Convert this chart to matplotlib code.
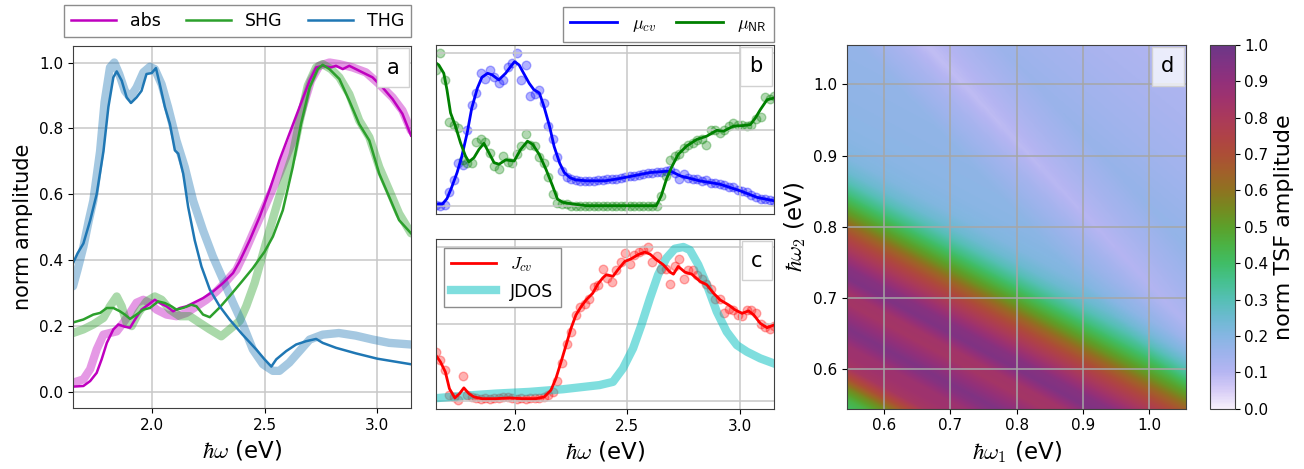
import numpy as np
import matplotlib
matplotlib.use('Agg')
import matplotlib.pyplot as plt
from matplotlib.colors import LinearSegmentedColormap
from matplotlib.offsetbox import AnchoredText

# ---- panel a: normalised spectra (thin = model, thick = reference) ----
abs_e = [1.65, 1.696, 1.726, 1.755, 1.777, 1.80, 1.829, 1.851, 1.88, 1.903, 1.925, 1.954, 1.984,
         2.013, 2.035, 2.065, 2.094, 2.124, 2.153, 2.183, 2.227, 2.271, 2.316, 2.36, 2.389, 2.434,
         2.478, 2.522, 2.566, 2.61, 2.655, 2.70, 2.729, 2.758, 2.795, 2.817, 2.847, 2.876, 2.92,
         2.979, 3.024, 3.068, 3.112, 3.15]
abs_y = [0.015, 0.017, 0.032, 0.057, 0.098, 0.148, 0.189, 0.204, 0.197, 0.194, 0.219, 0.249, 0.264,
         0.279, 0.269, 0.259, 0.244, 0.254, 0.259, 0.269, 0.284, 0.304, 0.33, 0.36, 0.395, 0.46,
         0.531, 0.612, 0.703, 0.783, 0.864, 0.945, 0.985, 0.99, 0.985, 0.99, 0.98, 0.99, 0.975,
         0.955, 0.924, 0.889, 0.844, 0.778]
abs_ref_e = [1.65, 1.696, 1.726, 1.755, 1.785, 1.814, 1.844, 1.873, 1.903, 1.932, 1.962, 1.991, 2.021,
             2.065, 2.109, 2.153, 2.198, 2.242, 2.286, 2.33, 2.375, 2.41, 2.448, 2.507, 2.566, 2.625,
             2.67, 2.706, 2.743, 2.788, 2.832, 2.891, 2.95, 3.009, 3.068, 3.112, 3.15]
abs_ref_y = [0.027, 0.037, 0.068, 0.128, 0.173, 0.178, 0.183, 0.209, 0.239, 0.27, 0.279, 0.269, 0.249,
             0.234, 0.229, 0.239, 0.259, 0.279, 0.304, 0.335, 0.37, 0.42, 0.48, 0.571, 0.662, 0.763,
             0.864, 0.945, 0.99, 1.0, 0.995, 0.985, 0.97, 0.934, 0.894, 0.854, 0.793]

shg_e = [1.65, 1.696, 1.74, 1.77, 1.80, 1.829, 1.858, 1.88, 1.903, 1.932, 1.962, 1.991, 2.028, 2.058,
         2.087, 2.109, 2.139, 2.175, 2.198, 2.227, 2.257, 2.30, 2.345, 2.40, 2.448, 2.50, 2.537,
         2.581, 2.625, 2.662, 2.70, 2.736, 2.758, 2.788, 2.832, 2.876, 2.92, 2.965, 3.009, 3.053,
         3.097, 3.15]
shg_y = [0.21, 0.219, 0.234, 0.239, 0.254, 0.254, 0.244, 0.234, 0.221, 0.234, 0.249, 0.254, 0.274,
         0.269, 0.259, 0.249, 0.254, 0.264, 0.259, 0.234, 0.226, 0.255, 0.29, 0.335, 0.375, 0.425,
         0.471, 0.551, 0.682, 0.814, 0.924, 0.98, 0.993, 0.98, 0.95, 0.884, 0.813, 0.763, 0.662,
         0.592, 0.521, 0.481]
shg_ref_e = [1.65, 1.696, 1.74, 1.785, 1.814, 1.844, 1.866, 1.888, 1.91, 1.94, 1.976, 2.013, 2.043,
             2.08, 2.124, 2.168, 2.212, 2.257, 2.308, 2.345, 2.39, 2.419, 2.456, 2.485, 2.522, 2.56,
             2.596, 2.625, 2.655, 2.692, 2.729, 2.758, 2.795, 2.832, 2.876, 2.92, 2.965, 3.009, 3.053,
             3.097, 3.15]
shg_ref_y = [0.178, 0.189, 0.204, 0.224, 0.259, 0.289, 0.259, 0.209, 0.199, 0.239, 0.274, 0.289, 0.279,
             0.249, 0.229, 0.229, 0.209, 0.189, 0.168, 0.189, 0.215, 0.26, 0.33, 0.40, 0.49, 0.58,
             0.66, 0.72, 0.82, 0.93, 0.985, 0.995, 0.98, 0.955, 0.904, 0.824, 0.773, 0.682, 0.612,
             0.541, 0.481]

thg_e = [1.65, 1.67, 1.696, 1.726, 1.755, 1.785, 1.807, 1.829, 1.844, 1.866, 1.888, 1.907, 1.932,
         1.954, 1.976, 1.999, 2.018, 2.035, 2.058, 2.08, 2.102, 2.117, 2.139, 2.161, 2.19, 2.22,
         2.257, 2.30, 2.345, 2.40, 2.463, 2.50, 2.53, 2.552, 2.596, 2.64, 2.684, 2.729, 2.758,
         2.817, 2.906, 3.0, 3.15]
thg_y = [0.39, 0.42, 0.45, 0.52, 0.60, 0.73, 0.865, 0.955, 0.973, 0.945, 0.894, 0.877, 0.894,
         0.914, 0.965, 0.968, 0.983, 0.934, 0.864, 0.813, 0.733, 0.723, 0.662, 0.561, 0.46, 0.38,
         0.31, 0.26, 0.219, 0.175, 0.128, 0.098, 0.076, 0.098, 0.123, 0.143, 0.153, 0.16, 0.148,
         0.133, 0.116, 0.10, 0.083]
thg_ref_e = [1.65, 1.67, 1.696, 1.72, 1.74, 1.77, 1.79, 1.814, 1.833, 1.855, 1.88, 1.903, 1.932,
             1.962, 1.991, 2.013, 2.043, 2.072, 2.109, 2.146, 2.183, 2.227, 2.271, 2.316, 2.36,
             2.40, 2.448, 2.493, 2.537, 2.566, 2.61, 2.655, 2.70, 2.758, 2.83, 2.905, 2.98, 3.053, 3.15]
thg_ref_y = [0.32, 0.37, 0.44, 0.52, 0.58, 0.73, 0.88, 0.985, 1.0, 0.965, 0.914, 0.894, 0.924,
             0.97, 0.987, 0.98, 0.934, 0.864, 0.763, 0.682, 0.58, 0.49, 0.41, 0.34, 0.27,
             0.21, 0.128, 0.083, 0.063, 0.063, 0.088, 0.123, 0.158, 0.173, 0.178, 0.17, 0.158, 0.148, 0.143]

# ---- panels b, c: matrix elements (points = raw, line = smoothed) ----
pt_e = np.round(np.arange(1.65, 3.151, 0.02), 2)

mucv_pts = [0.01, 0.0, 0.01, 0.09, 0.17, 0.28, 0.27, 0.50, 0.66, 0.74, 0.87, 0.83, 0.89, 0.84, 0.80,
            0.82, 0.91, 0.93, 1.00, 0.82, 0.92, 0.72, 0.73, 0.76, 0.67, 0.52, 0.44, 0.32, 0.23, 0.19,
            0.18, 0.17, 0.165, 0.165, 0.165, 0.165, 0.17, 0.17, 0.175, 0.18, 0.18, 0.185, 0.19, 0.195,
            0.20, 0.205, 0.21, 0.215, 0.22, 0.225, 0.225, 0.23, 0.235, 0.22, 0.18, 0.21, 0.185, 0.18,
            0.18, 0.165, 0.17, 0.15, 0.155, 0.145, 0.14, 0.125, 0.125, 0.105, 0.10, 0.09, 0.075, 0.06,
            0.05, 0.045, 0.04, 0.035]
munr_pts = [0.89, 1.00, 0.82, 0.55, 0.53, 0.51, 0.30, 0.28, 0.28, 0.42, 0.44, 0.42, 0.35, 0.26, 0.24,
            0.33, 0.29, 0.28, 0.34, 0.39, 0.47, 0.40, 0.39, 0.32, 0.28, 0.19, 0.08, 0.02, 0.015, 0.015,
            0.005, 0.005, 0.005, 0.005, 0.005, 0.005, 0.005, 0.005, 0.005, 0.005, 0.005, 0.005, 0.005,
            0.005, 0.005, 0.005, 0.005, 0.005, 0.005, 0.005, 0.07, 0.20, 0.30, 0.33, 0.34, 0.38, 0.40,
            0.41, 0.43, 0.44, 0.40, 0.50, 0.50, 0.48, 0.50, 0.52, 0.54, 0.53, 0.53, 0.52, 0.53, 0.57,
            0.58, 0.71, 0.70, 0.72]
jcv_pts = [0.32, 0.27, 0.20, 0.04, 0.03, 0.006, 0.165, 0.04, 0.03, 0.02, 0.015, 0.02, 0.015, 0.02,
           0.02, 0.025, 0.025, 0.02, 0.015, 0.02, 0.015, 0.02, 0.02, 0.02, 0.025, 0.04, 0.06, 0.13,
           0.25, 0.37, 0.45, 0.56, 0.61, 0.63, 0.66, 0.74, 0.755, 0.86, 0.80, 0.77, 0.85, 0.90, 0.96,
           0.89, 0.95, 0.97, 0.98, 1.00, 0.90, 0.94, 0.86, 0.86, 0.76, 0.88, 0.92, 0.79, 0.85, 0.85,
           0.82, 0.79, 0.76, 0.73, 0.66, 0.66, 0.57, 0.60, 0.59, 0.56, 0.55, 0.59, 0.59, 0.57, 0.50,
           0.48, 0.47, 0.49]

mucv_e = [1.65, 1.68, 1.70, 1.72, 1.745, 1.765, 1.79, 1.81, 1.835, 1.855, 1.88, 1.90, 1.93, 1.96,
          1.985, 2.0, 2.02, 2.04, 2.065, 2.085, 2.11, 2.13, 2.155, 2.175, 2.20, 2.22, 2.245, 2.27,
          2.32, 2.40, 2.45, 2.525, 2.60, 2.69, 2.735, 2.82, 2.91, 3.0, 3.075, 3.15]
mucv_y = [0.015, 0.015, 0.05, 0.12, 0.22, 0.32, 0.48, 0.64, 0.77, 0.84, 0.866, 0.856, 0.823, 0.866,
          0.915, 0.942, 0.92, 0.866, 0.80, 0.76, 0.737, 0.65, 0.52, 0.39, 0.28, 0.22, 0.187, 0.172,
          0.166, 0.166, 0.177, 0.198, 0.22, 0.23, 0.198, 0.166, 0.144, 0.101, 0.058, 0.036]
munr_e = [1.65, 1.664, 1.686, 1.70, 1.716, 1.738, 1.76, 1.782, 1.797, 1.82, 1.842, 1.864, 1.886,
          1.909, 1.931, 1.96, 1.998, 2.027, 2.057, 2.08, 2.109, 2.139, 2.168, 2.19, 2.213, 2.258,
          2.317, 2.628, 2.65, 2.673, 2.695, 2.725, 2.762, 2.807, 2.852, 2.896, 2.926, 2.97, 3.015,
          3.045, 3.067, 3.089, 3.119, 3.15]
munr_y = [0.935, 0.92, 0.866, 0.759, 0.608, 0.521, 0.414, 0.328, 0.289, 0.317, 0.371, 0.41, 0.349,
          0.284, 0.274, 0.302, 0.295, 0.371, 0.424, 0.403, 0.338, 0.241, 0.134, 0.047, 0.026, 0.015,
          0.004, 0.004, 0.069, 0.177, 0.252, 0.338, 0.392, 0.435, 0.457, 0.495, 0.489, 0.522, 0.526,
          0.532, 0.575, 0.629, 0.694, 0.705]
jcv_e = [1.65, 1.671, 1.693, 1.711, 1.735, 1.756, 1.775, 1.797, 1.82, 1.857, 1.916, 1.976, 2.035,
         2.094, 2.131, 2.161, 2.183, 2.206, 2.228, 2.25, 2.272, 2.295, 2.317, 2.346, 2.369, 2.391,
         2.406, 2.436, 2.458, 2.488, 2.517, 2.547, 2.577, 2.60, 2.629, 2.659, 2.689, 2.704, 2.725,
         2.755, 2.785, 2.822, 2.852, 2.882, 2.911, 2.948, 2.978, 3.008, 3.037, 3.06, 3.089, 3.119, 3.15]
jcv_y = [0.30, 0.256, 0.19, 0.082, 0.022, 0.05, 0.087, 0.05, 0.028, 0.017, 0.017, 0.022, 0.017,
         0.017, 0.028, 0.072, 0.148, 0.256, 0.364, 0.473, 0.56, 0.614, 0.657, 0.70, 0.76, 0.80,
         0.82, 0.81, 0.853, 0.906, 0.924, 0.95, 0.967, 0.954, 0.917, 0.885, 0.837, 0.824, 0.874,
         0.837, 0.824, 0.777, 0.755, 0.70, 0.657, 0.625, 0.592, 0.57, 0.586, 0.56, 0.505, 0.477, 0.495]
jdos_e = [1.65, 1.767, 1.916, 2.065, 2.213, 2.376, 2.436, 2.48, 2.525, 2.562, 2.60, 2.636, 2.673,
          2.71, 2.748, 2.777, 2.814, 2.852, 2.896, 2.94, 2.985, 3.03, 3.089, 3.15]
jdos_y = [0.02, 0.035, 0.05, 0.061, 0.078, 0.105, 0.126, 0.213, 0.343, 0.495, 0.668, 0.82, 0.928,
          0.989, 1.0, 0.98, 0.885, 0.755, 0.581, 0.451, 0.364, 0.321, 0.278, 0.245]

# ---- panel d: TSF amplitude, profile along w1 + 2 w2 and weak dip along w1 + w2 ----
tsf_e = [1.63, 1.66, 1.69, 1.72, 1.75, 1.78, 1.81, 1.84, 1.86, 1.89, 1.93, 1.96, 2.00, 2.03, 2.07,
         2.11, 2.15, 2.18, 2.21, 2.24, 2.27, 2.30, 2.34, 2.40, 2.50, 2.65, 2.80, 3.00, 3.17]
tsf_amp = [0.40, 0.45, 0.55, 0.70, 0.82, 0.85, 0.86, 0.93, 0.95, 0.90, 0.83, 0.84, 0.95, 0.93, 0.83,
           0.74, 0.63, 0.53, 0.45, 0.37, 0.30, 0.25, 0.21, 0.19, 0.18, 0.17, 0.16, 0.15, 0.14]
dip_e = [1.08, 1.62, 1.68, 1.72, 1.77, 1.83, 1.95, 2.12]
dip_amp = [0.0, 0.0, 0.04, 0.08, 0.04, 0.0, 0.02, 0.04]

cmap_vals = [0.0, 0.05, 0.1, 0.15, 0.2, 0.25, 0.3, 0.35, 0.4, 0.45, 0.5, 0.55, 0.6, 0.65, 0.7,
             0.75, 0.8, 0.85, 0.9, 0.95, 1.0]
cmap_cols = ['#f7effb', '#d6ccf6', '#b5b5f2', '#9eb3ec', '#85b6e2', '#6cbad0', '#55bfb4', '#46c08f',
             '#40bd66', '#4bb244', '#5ca02a', '#758a20', '#8e7320', '#a1602a', '#ac4e36', '#af4247',
             '#aa3a5a', '#a0336c', '#92307a', '#803383', '#6c3787']
tsf_cmap = LinearSegmentedColormap.from_list('tsf', list(zip(cmap_vals, cmap_cols)))

plt.rcParams['font.family'] = ['DejaVu Sans']
plt.rcParams['mathtext.fontset'] = 'cm'
plt.rcParams['axes.edgecolor'] = '0.25'
plt.rcParams['grid.color'] = '0.78'
plt.rcParams['grid.linewidth'] = 1.1
plt.rcParams['xtick.labelsize'] = 11
plt.rcParams['ytick.labelsize'] = 11
plt.rcParams['legend.edgecolor'] = '0.55'
plt.rcParams['legend.fancybox'] = False
plt.rcParams['legend.framealpha'] = 1.0

fig = plt.figure(figsize=(13.04, 4.69), dpi=100)
ax_a = fig.add_axes([0.056, 0.130, 0.2592, 0.7718])
ax_b = fig.add_axes([0.3341, 0.5437, 0.2595, 0.3603])
ax_c = fig.add_axes([0.3341, 0.1279, 0.2595, 0.3619])
ax_d = fig.add_axes([0.6498, 0.1286, 0.2597, 0.7754])
cax = fig.add_axes([0.9279, 0.1286, 0.019, 0.7754])


def tag(ax, s, fc='white'):
    at = AnchoredText(s, loc='upper right', prop=dict(size=15), pad=0.45, borderpad=0.1, frameon=True)
    at.patch.set_boxstyle('square,pad=0')
    at.patch.set_edgecolor('0.82')
    at.patch.set_facecolor(fc)
    ax.add_artist(at)


# a
thick = dict(lw=6, alpha=0.4, solid_capstyle='round')
ax_a.plot(abs_ref_e, abs_ref_y, color='m', **thick)
ax_a.plot(shg_ref_e, shg_ref_y, color='tab:green', **thick)
ax_a.plot(thg_ref_e, thg_ref_y, color='tab:blue', **thick)
ax_a.plot(abs_e, abs_y, color='m', lw=1.8, label='abs')
ax_a.plot(shg_e, shg_y, color='tab:green', lw=1.8, label='SHG')
ax_a.plot(thg_e, thg_y, color='tab:blue', lw=1.8, label='THG')
ax_a.set_xlim(1.65, 3.15)
ax_a.set_ylim(-0.05, 1.05)
ax_a.set_xticks([2.0, 2.5, 3.0])
ax_a.set_yticks([0.0, 0.2, 0.4, 0.6, 0.8, 1.0])
ax_a.grid(True)
ax_a.set_xlabel(r'$\hbar\omega$ (eV)', fontsize=16.5)
ax_a.set_ylabel('norm amplitude', fontsize=15)
ax_a.legend(ncol=3, loc='lower left', bbox_to_anchor=(-0.027, 1.025, 1.027, 0.1), mode='expand',
            borderaxespad=0, fontsize=12.5, handlelength=2.6)
tag(ax_a, 'a')

# b
pts = dict(s=38, alpha=0.3, linewidths=1)
ax_b.scatter(pt_e, mucv_pts, color='b', **pts)
ax_b.scatter(pt_e, munr_pts, color='g', **pts)
ax_b.plot(mucv_e, mucv_y, color='b', lw=2, label=r'$\mu_{cv}$')
ax_b.plot(munr_e, munr_y, color='g', lw=2, label=r'$\mu_{\mathsf{NR}}$')
ax_b.set_xlim(1.65, 3.15)
ax_b.set_ylim(-0.05, 1.05)
ax_b.set_xticks([2.0, 2.5, 3.0])
ax_b.set_yticks([0.0, 0.5, 1.0])
ax_b.tick_params(labelbottom=False, labelleft=False, length=0)
ax_b.grid(True)
ax_b.legend(ncol=2, loc='lower right', bbox_to_anchor=(1.0, 1.02), borderaxespad=0,
            fontsize=13, handlelength=2.6, columnspacing=1.1)
tag(ax_b, 'b')

# c
ax_c.scatter(pt_e, jcv_pts, color='r', **pts)
ax_c.plot(jdos_e, jdos_y, color='c', lw=6, alpha=0.5, label='JDOS')
ax_c.plot(jcv_e, jcv_y, color='r', lw=2, label=r'$J_{cv}$')
ax_c.set_xlim(1.65, 3.15)
ax_c.set_ylim(-0.05, 1.05)
ax_c.set_xticks([2.0, 2.5, 3.0])
ax_c.set_yticks([0.0, 0.5, 1.0])
ax_c.tick_params(axis='y', labelleft=False, length=0)
ax_c.grid(True)
ax_c.set_xlabel(r'$\hbar\omega$ (eV)', fontsize=16.5)
h, l = ax_c.get_legend_handles_labels()
ax_c.legend(h[::-1], l[::-1], loc='upper left', fontsize=12.5, handlelength=2.6)
tag(ax_c, 'c')

# d
w1 = np.linspace(0.545, 1.055, 300)
w2 = np.linspace(0.545, 1.055, 300)
W1, W2 = np.meshgrid(w1, w2)
Z = np.interp(W1 + 2 * W2, tsf_e, tsf_amp) - np.interp(W1 + W2, dip_e, dip_amp)
im = ax_d.imshow(Z, origin='lower', extent=(0.545, 1.055, 0.545, 1.055), aspect='auto',
                 cmap=tsf_cmap, vmin=0, vmax=1, interpolation='bilinear')
ax_d.set_xticks([0.6, 0.7, 0.8, 0.9, 1.0])
ax_d.set_yticks([0.6, 0.7, 0.8, 0.9, 1.0])
ax_d.grid(True, color='0.65')
ax_d.set_xlabel(r'$\hbar\omega_1$ (eV)', fontsize=16.5)
ax_d.set_ylabel(r'$\hbar\omega_2$ (eV)', fontsize=16.5)
tag(ax_d, 'd', fc=(1, 1, 1, 0.75))

cb = fig.colorbar(im, cax=cax, ticks=np.arange(0, 1.01, 0.1))
cb.set_label('norm TSF amplitude', fontsize=16)
cb.ax.tick_params(labelsize=11)

fig.savefig('out.png', dpi=100)
